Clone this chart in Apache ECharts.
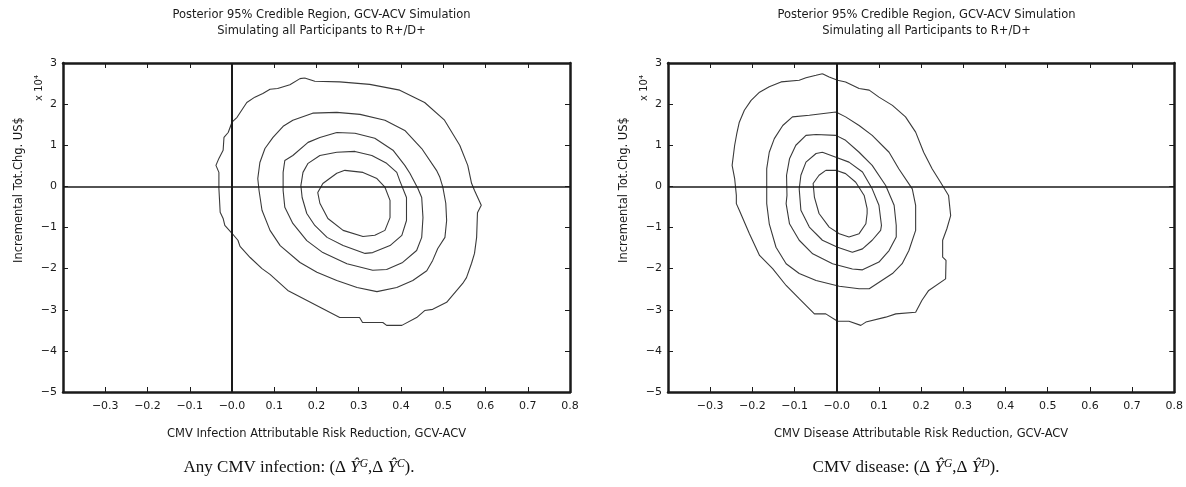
<!DOCTYPE html>
<html>
<head>
<meta charset="utf-8">
<title>Posterior 95% Credible Region</title>
<script src="https://cdn.jsdelivr.net/npm/echarts@6/dist/echarts.min.js"></script>
<style>
  html, body { margin: 0; padding: 0; background: #fff; }
  #chart { width: 1186px; height: 487px; }
</style>
</head>
<body>
<div id="chart"></div>
<script>
// axis ranges / ticks
var xRange = [-0.4, 0.8];
var yRange = [-5, 3];
var titleText = 'Posterior 95% Credible Region, GCV-ACV Simulation\nSimulating all Participants to R+/D+';

// CMV infection panel: contours, outermost first  [risk reduction, cost (x1e4)]
var infLevel1 = [[0.172,2.635],[0.196,2.555],[0.255,2.54],[0.326,2.48],[0.397,2.34],[0.456,2.04],[0.503,1.61],[0.539,1.0],[0.558,0.51],[0.567,0.075],[0.574,-0.1],[0.59,-0.46],[0.581,-0.64],[0.579,-1.24],[0.574,-1.63],[0.567,-1.87],[0.555,-2.22],[0.546,-2.36],[0.508,-2.82],[0.475,-2.99],[0.456,-3.02],[0.437,-3.19],[0.402,-3.38],[0.366,-3.38],[0.357,-3.31],[0.309,-3.31],[0.302,-3.19],[0.255,-3.19],[0.132,-2.53],[0.09,-2.14],[0.071,-2.0],[0.043,-1.73],[0.019,-1.46],[0.014,-1.31],[0.0,-1.14],[-0.017,-0.95],[-0.021,-0.78],[-0.028,-0.63],[-0.031,-0.05],[-0.031,0.34],[-0.038,0.51],[-0.031,0.68],[-0.021,0.88],[-0.019,1.19],[-0.009,1.31],[0.0,1.56],[0.012,1.68],[0.026,1.9],[0.035,2.04],[0.054,2.17],[0.073,2.26],[0.09,2.36],[0.108,2.38],[0.137,2.47],[0.161,2.62],[0.172,2.635]];
var infLevel2 = [[0.248,1.8],[0.303,1.75],[0.362,1.61],[0.409,1.36],[0.449,0.92],[0.484,0.39],[0.492,0.22],[0.499,-0.02],[0.506,-0.41],[0.508,-0.83],[0.504,-1.24],[0.487,-1.51],[0.475,-1.8],[0.461,-2.05],[0.428,-2.29],[0.39,-2.46],[0.343,-2.56],[0.296,-2.46],[0.248,-2.29],[0.201,-2.09],[0.161,-1.85],[0.114,-1.44],[0.09,-1.07],[0.071,-0.58],[0.064,-0.1],[0.061,0.19],[0.066,0.58],[0.078,0.92],[0.097,1.19],[0.121,1.46],[0.144,1.61],[0.191,1.78],[0.248,1.8]];
var infLevel3 = [[0.248,1.31],[0.291,1.29],[0.338,1.17],[0.381,0.88],[0.409,0.51],[0.421,0.32],[0.44,-0.05],[0.449,-0.27],[0.452,-0.76],[0.449,-1.24],[0.437,-1.56],[0.404,-1.85],[0.366,-2.02],[0.333,-2.04],[0.272,-1.88],[0.215,-1.61],[0.177,-1.32],[0.144,-0.9],[0.125,-0.51],[0.121,-0.1],[0.121,0.34],[0.125,0.63],[0.144,0.75],[0.18,1.07],[0.208,1.19],[0.248,1.31]];
var infLevel4 = [[0.248,0.83],[0.291,0.85],[0.331,0.75],[0.366,0.56],[0.39,0.34],[0.397,0.14],[0.413,-0.27],[0.413,-0.83],[0.402,-1.19],[0.374,-1.44],[0.333,-1.61],[0.315,-1.63],[0.263,-1.44],[0.225,-1.24],[0.196,-0.95],[0.177,-0.66],[0.166,-0.27],[0.163,0.02],[0.168,0.34],[0.18,0.56],[0.208,0.75],[0.248,0.83]];
var infLevel5 = [[0.267,0.39],[0.31,0.34],[0.343,0.19],[0.362,-0.02],[0.374,-0.34],[0.374,-0.76],[0.362,-1.07],[0.338,-1.19],[0.31,-1.22],[0.263,-1.07],[0.227,-0.78],[0.208,-0.41],[0.203,-0.15],[0.215,0.07],[0.248,0.32],[0.267,0.39]];

// CMV disease panel
var disLevel1 = [[-0.034,2.74],[-0.018,2.66],[0.002,2.58],[0.021,2.54],[0.053,2.38],[0.077,2.34],[0.1,2.17],[0.132,1.97],[0.163,1.69],[0.187,1.32],[0.206,0.83],[0.226,0.43],[0.246,0.1],[0.265,-0.22],[0.27,-0.71],[0.261,-1.03],[0.251,-1.31],[0.251,-1.72],[0.259,-1.8],[0.258,-2.25],[0.218,-2.53],[0.202,-2.77],[0.187,-3.06],[0.14,-3.1],[0.116,-3.18],[0.069,-3.3],[0.057,-3.38],[0.029,-3.28],[0.002,-3.28],[-0.026,-3.1],[-0.053,-3.1],[-0.089,-2.73],[-0.12,-2.41],[-0.152,-2.0],[-0.183,-1.68],[-0.207,-1.15],[-0.231,-0.58],[-0.238,-0.42],[-0.238,-0.22],[-0.242,0.19],[-0.248,0.51],[-0.242,1.0],[-0.237,1.28],[-0.231,1.56],[-0.219,1.85],[-0.203,2.09],[-0.183,2.29],[-0.16,2.42],[-0.132,2.54],[-0.089,2.58],[-0.073,2.64],[-0.049,2.7],[-0.034,2.74]];
var disLevel2 = [[-0.002,1.81],[0.021,1.69],[0.053,1.48],[0.084,1.24],[0.124,0.83],[0.147,0.43],[0.179,-0.06],[0.187,-0.46],[0.187,-1.07],[0.171,-1.56],[0.155,-1.88],[0.132,-2.12],[0.077,-2.49],[0.053,-2.49],[0.006,-2.43],[-0.049,-2.29],[-0.089,-2.12],[-0.12,-1.88],[-0.144,-1.48],[-0.16,-0.91],[-0.166,-0.42],[-0.166,-0.06],[-0.166,0.43],[-0.16,0.83],[-0.148,1.16],[-0.128,1.48],[-0.105,1.69],[-0.065,1.73],[-0.002,1.81]];
var disLevel3 = [[-0.002,1.24],[0.021,1.12],[0.053,0.83],[0.084,0.51],[0.116,0.02],[0.136,-0.46],[0.141,-0.95],[0.141,-1.23],[0.124,-1.56],[0.1,-1.84],[0.061,-2.03],[0.037,-2.01],[-0.01,-1.88],[-0.057,-1.64],[-0.089,-1.31],[-0.112,-0.91],[-0.12,-0.42],[-0.118,-0.22],[-0.119,0.27],[-0.112,0.67],[-0.097,1.0],[-0.073,1.24],[-0.049,1.26],[-0.002,1.24]];
var disLevel4 = [[-0.034,0.83],[-0.002,0.71],[0.029,0.59],[0.061,0.35],[0.084,-0.06],[0.1,-0.46],[0.106,-0.95],[0.104,-1.07],[0.084,-1.31],[0.061,-1.52],[0.037,-1.6],[0.002,-1.48],[-0.034,-1.31],[-0.065,-0.99],[-0.085,-0.58],[-0.089,-0.06],[-0.085,0.27],[-0.073,0.59],[-0.049,0.8],[-0.034,0.83]];
var disLevel5 = [[-0.026,0.39],[-0.002,0.39],[0.021,0.31],[0.045,0.1],[0.065,-0.22],[0.072,-0.54],[0.072,-0.66],[0.069,-0.91],[0.053,-1.15],[0.029,-1.23],[0.006,-1.15],[-0.018,-0.99],[-0.042,-0.66],[-0.053,-0.26],[-0.056,0.07],[-0.042,0.27],[-0.026,0.39]];

var panels = [
  { left: 63, xName: 'CMV Infection Attributable Risk Reduction, GCV-ACV',
    caption: 'Any CMV infection: (Δ {i|Ŷ}{s|G},Δ {i|Ŷ}{s|C}).', capX: 299,
    levels: [infLevel1, infLevel2, infLevel3, infLevel4, infLevel5] },
  { left: 668, xName: 'CMV Disease Attributable Risk Reduction, GCV-ACV',
    caption: 'CMV disease: (Δ {i|Ŷ}{s|G},Δ {i|Ŷ}{s|D}).', capX: 906,
    levels: [disLevel1, disLevel2, disLevel3, disLevel4, disLevel5] }
];

var plotTop = 63, plotW = 507, plotH = 329;
var font = 'DejaVu Sans';
var ink = '#1a1a1a';

function minus(s) { return s.replace('-', '\u2212'); }

function xLabel(v) {
  if (v < -0.35) return '';
  if (Math.abs(v) < 1e-9) return '\u22120.0';
  return minus(v.toFixed(1));
}

var chart = echarts.init(document.getElementById('chart'));
var grid = [], xAxis = [], yAxis = [], series = [], title = [], graphic = [];

panels.forEach(function (p, k) {
  grid.push({ left: p.left, top: plotTop, width: plotW, height: plotH, containLabel: false });
  var axLine = { show: true, onZero: false, lineStyle: { color: ink, width: 2.5 } };
  var tick = { show: true, inside: true, length: 5, lineStyle: { color: ink, width: 1 } };
  // bottom + top x axes
  xAxis.push({
    type: 'value', gridIndex: k, min: xRange[0], max: xRange[1], interval: 0.1,
    axisLine: axLine, axisTick: tick, splitLine: { show: false },
    axisLabel: { formatter: xLabel, color: ink, fontFamily: font, fontSize: 11, margin: 9 },
    name: p.xName, nameLocation: 'middle', nameGap: 36,
    nameTextStyle: { color: ink, fontFamily: font, fontSize: 11.5 }
  });
  xAxis.push({
    type: 'value', gridIndex: k, position: 'top', min: xRange[0], max: xRange[1], interval: 0.1,
    axisLine: axLine, axisTick: tick, axisLabel: { show: false }, splitLine: { show: false }
  });
  // left + right y axes
  yAxis.push({
    type: 'value', gridIndex: k, min: yRange[0], max: yRange[1], interval: 1,
    axisLine: axLine, axisTick: tick, splitLine: { show: false },
    axisLabel: { formatter: function (v) { return minus(String(v)); }, color: ink, fontFamily: font, fontSize: 11, margin: 6 }
  });
  yAxis.push({
    type: 'value', gridIndex: k, position: 'right', min: yRange[0], max: yRange[1], interval: 1,
    axisLine: axLine, axisTick: tick, axisLabel: { show: false }, splitLine: { show: false }
  });

  p.levels.forEach(function (lv, j) {
    var s = {
      type: 'line', xAxisIndex: k * 2, yAxisIndex: k * 2, data: lv,
      showSymbol: false, smooth: false, silent: true, animation: false,
      lineStyle: { color: '#3a3a3a', width: 1.1 }
    };
    if (j === 0) {
      // zero reference lines
      s.markLine = {
        silent: true, symbol: 'none', animation: false,
        label: { show: false },
        lineStyle: { color: ink, width: 2, type: 'solid' },
        data: [{ xAxis: 0 }, { yAxis: 0, lineStyle: { width: 1.6 } }]
      };
    }
    series.push(s);
  });

  var cx = p.left + plotW / 2;
  title.push({
    text: titleText, left: cx, top: 2, textAlign: 'center',
    textStyle: { color: ink, fontFamily: font, fontSize: 11.5, fontWeight: 'normal', lineHeight: 16 }
  });

  graphic.push({
    type: 'text', x: p.left - 44, y: 190, rotation: Math.PI / 2,
    style: { text: 'Incremental Tot.Chg. US$', fill: ink, font: '11.5px "DejaVu Sans"', align: 'center', verticalAlign: 'middle' }
  });
  graphic.push({
    type: 'text', x: p.left - 24, y: 88, rotation: Math.PI / 2,
    style: { text: 'x 10\u2074', fill: ink, font: '10px "DejaVu Sans"', align: 'center', verticalAlign: 'middle' }
  });
  graphic.push({
    type: 'text', x: p.capX, y: 468,
    style: {
      text: p.caption, fill: '#111', font: '17px "Liberation Serif"', align: 'center', verticalAlign: 'middle',
      lineHeight: 20,
      rich: {
        i: { fontFamily: 'Liberation Serif', fontStyle: 'italic', fontSize: 17, lineHeight: 20 },
        s: { fontFamily: 'Liberation Serif', fontStyle: 'italic', fontSize: 11.5, lineHeight: 20, verticalAlign: 'top' }
      }
    }
  });
});

chart.setOption({
  animation: false,
  backgroundColor: '#fff',
  title: title,
  grid: grid,
  xAxis: xAxis,
  yAxis: yAxis,
  series: series,
  graphic: graphic
});
</script>
</body>
</html>
